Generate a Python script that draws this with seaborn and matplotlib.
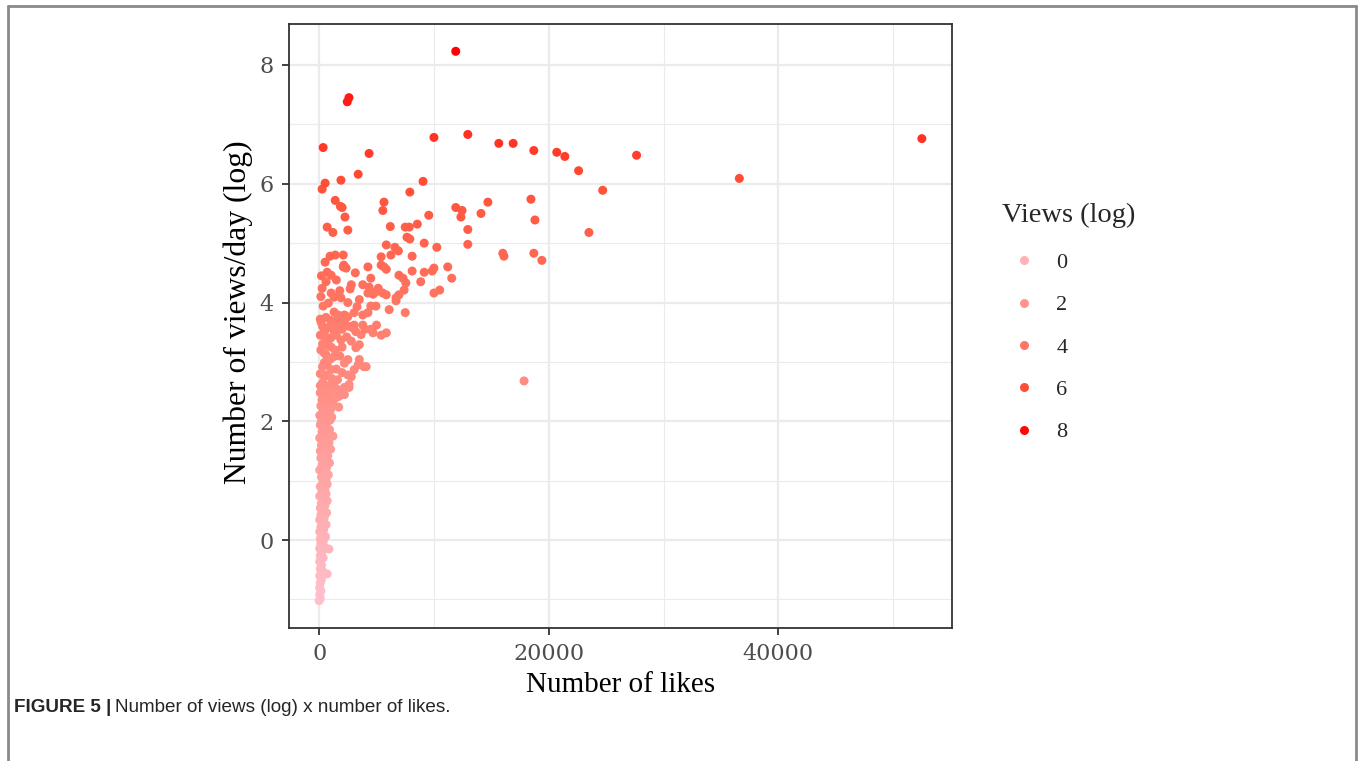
import matplotlib
matplotlib.use("Agg")
import matplotlib.pyplot as plt
import seaborn as sns
import pandas as pd
from matplotlib.colors import LinearSegmentedColormap, Normalize
from matplotlib.lines import Line2D

# ---------------- data ----------------
# upper / spread-out points
likes_top = [11900, 2600, 2450, 350, 10000, 12950, 15650, 16900, 18700, 20700,
             21400, 22600, 27650, 36600, 52500, 4350, 3400, 24700, 1900, 520,
             260, 9050, 7900, 1400, 1850, 2000, 2250, 5650, 5550, 9550,
             11900, 12450, 12350, 14100, 14700, 18450, 18800, 23500, 700, 1200,
             2500, 6200, 7500, 7850, 8550, 7650, 7900, 9150, 10250, 12950,
             12950, 5850, 6600, 6900, 5400, 6250, 8100, 16000, 16100, 18700,
             19400, 17850]
vpd_top = [8.23, 7.45, 7.38, 6.61, 6.78, 6.83, 6.68, 6.68, 6.56, 6.53,
           6.46, 6.22, 6.48, 6.09, 6.76, 6.51, 6.16, 5.89, 6.06, 6.01,
           5.91, 6.04, 5.86, 5.72, 5.62, 5.60, 5.44, 5.69, 5.55, 5.47,
           5.60, 5.55, 5.44, 5.50, 5.69, 5.74, 5.39, 5.18, 5.27, 5.18,
           5.22, 5.28, 5.27, 5.27, 5.32, 5.10, 5.07, 5.00, 4.93, 5.23,
           4.98, 4.97, 4.93, 4.87, 4.77, 4.80, 4.78, 4.83, 4.78, 4.83,
           4.71, 2.68]

# 3.8 - 4.8 band
likes_mid = [520, 950, 1400, 2100, 2150, 4250, 11200, 11550, 700, 1050,
             260, 1050, 1300, 2100, 2350, 3150, 4500, 4350, 5150, 5550,
             5850, 5400, 5650, 5850, 6950, 7300, 7550, 7400, 6700, 7500,
             8100, 8850, 9150, 9850, 10000, 10000, 10500, 6100, 2700, 3300,
             4500, 4950, 4250, 4700, 1900, 4950, 6950, 6700, 350, 800,
             1300, 1650, 2200, 3050, 3800, 4250, 600, 1500, 200, 1800,
             2500, 3500, 2800, 3800, 150]
vpd_mid = [4.68, 4.78, 4.80, 4.80, 4.63, 4.60, 4.60, 4.41, 4.51, 4.46,
           4.24, 4.16, 4.09, 4.60, 4.58, 4.50, 4.41, 4.26, 4.24, 4.16,
           4.13, 4.63, 4.60, 4.56, 4.46, 4.41, 4.33, 4.21, 4.08, 3.83,
           4.53, 4.35, 4.51, 4.53, 4.58, 4.16, 4.21, 3.88, 4.23, 3.93,
           3.94, 3.94, 4.16, 4.14, 4.08, 4.18, 4.13, 4.03, 3.94, 3.99,
           3.84, 3.79, 3.79, 3.83, 3.79, 3.83, 4.35, 4.38, 4.45, 4.20,
           4.00, 4.05, 4.30, 4.30, 4.10]

# 2.4 - 3.8 band
likes_low = [170, 1200, 2200, 3050, 3800, 4700, 5850, 450, 1300, 1900,
             2950, 3200, 3650, 3500, 3200, 450, 1050, 450, 1300, 2500,
             3500, 3900, 3050, 2800, 450, 1050, 450, 1300, 2200, 450,
             2200, 100, 600, 1000, 1600, 2500, 300, 800, 1500, 2000,
             2600, 100, 600, 1000, 1500, 2400, 300, 800, 1400, 2000,
             2800, 150, 600, 1000, 1800, 2200, 300, 700, 1500, 2000,
             100, 600, 1100, 1600, 2500, 300, 800, 1500, 2600, 100,
             500, 1000, 1800, 3400, 4100, 2600, 1700, 4500, 5000, 4000,
             5400]
vpd_low = [3.67, 3.66, 3.67, 3.62, 3.62, 3.49, 3.49, 3.51, 3.51, 3.37,
           3.57, 3.51, 3.46, 3.29, 3.24, 3.32, 3.25, 3.15, 3.09, 3.04,
           3.04, 2.92, 2.87, 2.75, 2.99, 2.87, 2.75, 2.65, 2.57, 2.53,
           2.45, 3.72, 3.75, 3.70, 3.73, 3.76, 3.60, 3.58, 3.62, 3.55,
           3.60, 3.45, 3.42, 3.40, 3.45, 3.42, 3.30, 3.28, 3.20, 3.25,
           3.35, 3.20, 3.12, 3.05, 3.10, 2.98, 2.92, 2.95, 2.88, 2.82,
           2.80, 2.78, 2.72, 2.70, 2.78, 2.65, 2.60, 2.55, 2.62, 2.60,
           2.52, 2.50, 2.48, 2.95, 2.92, 2.57, 2.42, 3.55, 3.62, 3.55,
           3.45]

# narrow column near zero likes
likes_col = [100, 500, 900, 1500, 250, 700, 1200, 150, 600, 1000,
             1700, 300, 800, 50, 450, 1100, 200, 650, 950,
             100, 500, 900, 250, 700, 1200, 50, 450, 850, 200,
             600, 1000, 100,
             400, 750, 150, 550, 900, 250, 650, 50, 450, 800,
             200, 600, 350, 700, 100, 500, 250,
             600, 50, 400, 700, 200, 500, 100, 350, 650, 150,
             450, 50, 300, 600, 150, 400, 50, 250, 550, 100, 350,
             150, 400, 850, 50, 250, 100, 350, 50, 200, 100,
             300, 700, 50, 200, 100, 50, 150, 50, 100, 0]
vpd_col = [2.48, 2.45, 2.42, 2.40, 2.36, 2.33, 2.30, 2.26, 2.22, 2.20,
           2.24, 2.15, 2.12, 2.10, 2.05, 2.07, 2.00, 1.98, 2.02,
           1.94, 1.90, 1.86, 1.82, 1.78, 1.75, 1.72, 1.68, 1.64, 1.60,
           1.56, 1.53, 1.50,
           1.46, 1.42, 1.38, 1.34, 1.30, 1.26, 1.22, 1.18, 1.14, 1.10,
           1.06, 1.02, 0.98, 0.94, 0.90, 0.86, 0.82,
           0.78, 0.74, 0.70, 0.66, 0.62, 0.58, 0.54, 0.50, 0.46, 0.42,
           0.38, 0.34, 0.30, 0.26, 0.22, 0.18, 0.14, 0.10, 0.06, 0.02, -0.02,
           -0.06, -0.10, -0.15, -0.14, -0.20, -0.26, -0.30, -0.36, -0.42, -0.48,
           -0.52, -0.57, -0.60, -0.66, -0.72, -0.80, -0.86, -0.92, -0.98, -1.02]

x_ticks = [0, 20000, 40000]
x_minor = [10000, 30000, 50000]
y_ticks = [0, 2, 4, 6, 8]
y_minor = [-1, 1, 3, 5, 7]
legend_values = [0, 2, 4, 6, 8]

# ---------------- figure ----------------
sns.set_theme(style="white")
plt.rcParams["font.family"] = ["Liberation Serif", "DejaVu Serif"]

W, H = 1363, 761
fig = plt.figure(figsize=(W / 100, H / 100), dpi=100)
ax = fig.add_axes([289 / W, 1 - 628 / H, (952 - 289) / W, (628 - 24) / H])

likes = likes_top + likes_mid + likes_low + likes_col
vpd = vpd_top + vpd_mid + vpd_low + vpd_col
df = pd.DataFrame({"likes": likes, "vpd": vpd})

cmap = LinearSegmentedColormap.from_list(
    "pinkred", ["#FFC0CB", "#FFA09F", "#FF7D6D", "#FF5239", "#FF0000"])
norm = Normalize(vmin=min(vpd), vmax=max(vpd))

sns.scatterplot(data=df, x="likes", y="vpd", hue="vpd", palette=cmap,
                hue_norm=norm, s=42, linewidth=0, legend=False, ax=ax, zorder=3)

ax.set_xlim(-2625, 55125)
ax.set_ylim(-1.48, 8.69)
ax.set_xticks(x_ticks)
ax.set_xticks(x_minor, minor=True)
ax.set_yticks(y_ticks)
ax.set_yticks(y_minor, minor=True)
ax.set_xticklabels([str(v) for v in x_ticks])
ax.set_yticklabels([str(v) for v in y_ticks])
for lab in ax.get_xticklabels() + ax.get_yticklabels():
    lab.set_family("DejaVu Serif")
ax.set_axisbelow(True)
ax.grid(which="major", color="#EBEBEB", linewidth=1.6)
ax.grid(which="minor", color="#EBEBEB", linewidth=0.8)
ax.tick_params(which="major", length=5, width=1.3, color="#333333",
               labelcolor="#4D4D4D", labelsize=16, pad=6,
               bottom=True, left=True)
ax.tick_params(which="minor", length=0)
for sp in ax.spines.values():
    sp.set_color("#333333")
    sp.set_linewidth(1.3)

ax.set_xlabel("Number of likes", fontsize=21, color="black", labelpad=4.5)
ax.set_ylabel("Number of views/day (log)", fontsize=22.8, color="black", labelpad=5)
ax.yaxis.label.set_y(0.523)

# legend
handles = [Line2D([], [], marker="o", linestyle="", markersize=6.5,
                  markerfacecolor=cmap(norm(v)), markeredgewidth=0)
           for v in legend_values]
leg = fig.legend(handles, [str(v) for v in legend_values], title="Views (log)",
                 loc="upper left", bbox_to_anchor=(982 / W, 1 - 182.5 / H),
                 frameon=False, fontsize=16, title_fontsize=20.5,
                 labelspacing=0.98, handletextpad=0.45, alignment="left")
leg._legend_box.sep = 17.9

# caption
cap1 = fig.text(14 / W, 1 - 707 / H, "FIGURE 5 |", fontsize=13.6, fontweight="bold",
                family="Liberation Sans", va="center", ha="left")
fig.canvas.draw()
bb = cap1.get_window_extent()
fig.text((bb.x1 + 4) / W, 1 - 707 / H, "Number of views (log) x number of likes.",
         fontsize=13.6, family="Liberation Sans", va="center", ha="left")

# outer frame
for xs, ys in [([7.5 / W, 7.5 / W], [0, 1 - 6 / H]),
               ([7.5 / W, 1356 / W], [1 - 6 / H, 1 - 6 / H]),
               ([1356 / W, 1356 / W], [1 - 6 / H, 0])]:
    fig.add_artist(Line2D(xs, ys, transform=fig.transFigure, color="#8A8A8A", lw=2))

fig.savefig("out.png", dpi=100)
